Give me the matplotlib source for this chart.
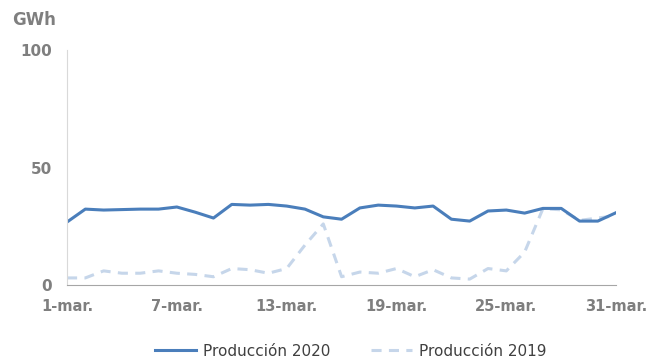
import numpy as np
import matplotlib
matplotlib.use("Agg")
import matplotlib.pyplot as plt

days = list(range(1, 32))
prod_2020 = [26.8, 32.3, 31.9, 32.1, 32.3, 32.3, 33.2, 31.0, 28.5, 34.3,
             34.0, 34.3, 33.6, 32.3, 29.0, 28.0, 32.8, 34.0, 33.6, 32.8,
             33.6, 28.0, 27.2, 31.5, 31.9, 30.6, 32.6, 32.6, 27.2, 27.2, 30.8]
prod_2019 = [3.0, 3.0, 6.0, 5.0, 5.0, 6.0, 5.0, 4.5, 3.5, 7.0,
             6.5, 5.0, 7.0, 17.0, 26.0, 3.5, 5.5, 5.0, 7.0, 3.5,
             6.5, 3.0, 2.5, 7.0, 6.0, 14.0, 32.5, 32.0, 27.5, 28.5, 29.5]
tick_days = [1, 7, 13, 19, 25, 31]
tick_labels = ["1-mar.", "7-mar.", "13-mar.", "19-mar.", "25-mar.", "31-mar."]
y_ticks = [0, 50, 100]

gray = "#7f7f7f"

fig = plt.figure(figsize=(6.52, 3.58), dpi=100)
ax = fig.add_axes([0.1028, 0.204, 0.8422, 0.656])

ax.plot(days, prod_2019, color="#c6d6ea", lw=2.2, dashes=(3.3, 2.4), label="Producción 2019")
ax.plot(days, prod_2020, color="#4a7ebb", lw=2.2, label="Producción 2020")

ax.set_xlim(1, 31)
ax.set_ylim(0, 100)
ax.set_xticks(tick_days)
ax.set_xticklabels(tick_labels)
ax.set_yticks(y_ticks)
ax.tick_params(length=0, labelcolor=gray)
ax.tick_params(axis="x", pad=10, labelsize=10.5)
ax.tick_params(axis="y", pad=11, labelsize=11)
for lbl in ax.get_xticklabels() + ax.get_yticklabels():
    lbl.set_fontweight("bold")

for side in ["top", "right"]:
    ax.spines[side].set_visible(False)
ax.spines["left"].set_color("#d9d9d9")
ax.spines["bottom"].set_color("#a6a6a6")

fig.text(0.018, 0.93, "GWh", color=gray, fontsize=12, fontweight="bold")

handles, labels = ax.get_legend_handles_labels()
fig.legend(handles[::-1], labels[::-1], loc="lower center", ncol=2, frameon=False,
           fontsize=11, bbox_to_anchor=(0.538, -0.04), handlelength=2.7,
           handletextpad=0.5, columnspacing=2.6, labelcolor="#404040")

fig.savefig("out.png", dpi=100)
